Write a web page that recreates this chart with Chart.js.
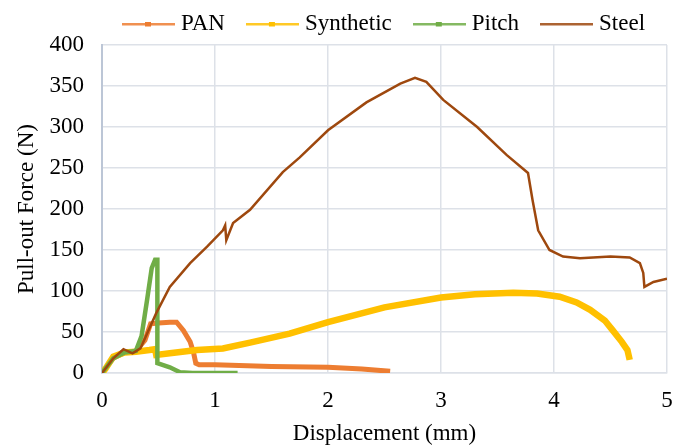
<!DOCTYPE html>
<html>
<head>
<meta charset="utf-8">
<script src="https://cdn.jsdelivr.net/npm/chart.js@4.4.1/dist/chart.umd.min.js"></script>
<style>
  html, body { margin: 0; padding: 0; background: #fff; }
  #wrap { width: 677px; height: 446px; position: relative; }
</style>
</head>
<body>
<div id="wrap"><canvas id="pullout"></canvas></div>
<script>
// displacement (mm) / force (N)
const panX = [0, 0.1, 0.2, 0.3, 0.38, 0.43, 0.5, 0.6, 0.66, 0.72, 0.78, 0.81, 0.83, 0.86, 1.0, 1.5, 2.0, 2.3, 2.55];
const panY = [0, 18, 25, 27, 40, 60, 61, 62, 62, 52, 38, 25, 12, 10, 10, 8, 7, 5, 2];

const synX = [0, 0.03, 0.1, 0.2, 0.3, 0.42, 0.47, 0.48, 0.6, 0.84, 1.07, 1.31, 1.66, 2.0, 2.5, 3.0, 3.3, 3.64, 3.85, 4.05, 4.2, 4.32, 4.45, 4.52, 4.6, 4.65, 4.67];
const synY = [0, 5, 20, 25, 26, 28, 29, 22, 24, 28, 30, 37, 48, 62, 80, 92, 96, 98, 97, 93, 86, 77, 64, 52, 38, 28, 16];

const pitchX = [0, 0.1, 0.2, 0.3, 0.35, 0.4, 0.44, 0.47, 0.49, 0.49, 0.6, 0.69, 0.8, 1.2];
const pitchY = [0, 18, 25, 27, 45, 90, 128, 138, 138, 12, 7, 1, 0, 0];

const steelX = [0, 0.1, 0.19, 0.27, 0.34, 0.48, 0.6, 0.78, 0.93, 1.07, 1.09, 1.1, 1.16, 1.31, 1.6, 1.75, 2.0, 2.34, 2.64, 2.77, 2.87, 3.02, 3.32, 3.58, 3.77, 3.81, 3.86, 3.96, 4.08, 4.23, 4.5, 4.67, 4.76, 4.79, 4.8, 4.88, 5.0];
const steelY = [0, 18, 29, 24, 30, 73, 105, 134, 154, 174, 180, 162, 183, 199, 245, 263, 296, 330, 353, 360, 355, 333, 300, 266, 244, 211, 174, 150, 142, 140, 142, 141, 134, 122, 105, 111, 115];

const xTicks = [0, 1, 2, 3, 4, 5];
const yTicks = [0, 50, 100, 150, 200, 250, 300, 350, 400];

const serif = 'Liberation Serif';
const fontSize = 23;
const legendPad = 26.5;

function points(xs, ys) {
  return xs.map((x, i) => ({ x: x, y: ys[i] }));
}

// little legend glyph: line with a square marker, like the Excel legend
function legendGlyph(color, marker) {
  const c = document.createElement('canvas');
  c.width = 53;
  c.height = 8;
  const g = c.getContext('2d');
  g.fillStyle = color;
  g.globalAlpha = 0.85;
  g.fillRect(0, 3, 53, 2.5);
  g.globalAlpha = 1;
  if (marker) g.fillRect(23, 2, 6, 4.5);
  return c;
}

function series(label, xs, ys, color, width, order, marker) {
  return {
    label: label,
    data: points(xs, ys),
    borderColor: color,
    backgroundColor: color,
    borderWidth: width,
    pointRadius: 0,
    pointStyle: legendGlyph(color, marker),
    tension: 0,
    order: order
  };
}

// keep the legend one row, put it where Excel had it
const legendPlace = {
  id: 'legendPlace',
  beforeLayout(chart) {
    const lg = chart.legend;
    if (lg && !lg._wrapped) {
      const fit = lg.fit;
      lg.fit = function () {
        this.maxWidth = 2000;
        this.width = 2000;
        fit.call(this);
        this.height = 45;
      };
      lg._wrapped = true;
    }
  },
  afterLayout(chart) {
    const lg = chart.legend;
    const rowWidth = lg.lineWidths[0];
    lg.right = 900;
    lg.left = 2 * 127.5 + rowWidth - legendPad - lg.right;
    lg.width = lg.right - lg.left;
    lg.top = 24 - legendPad - fontSize / 2;
  }
};

const ctx = document.getElementById('pullout').getContext('2d');
const chart = new Chart(ctx, {
  type: 'line',
  data: {
    datasets: [
      series('PAN', panX, panY, '#ED7D31', 5, 3, true),
      series('Synthetic', synX, synY, '#FFC000', 6.5, 2, true),
      series('Pitch', pitchX, pitchY, '#70AD47', 4.5, 1, true),
      series('Steel', steelX, steelY, '#9E480E', 2.5, 0, false)
    ]
  },
  plugins: [legendPlace],
  options: {
    responsive: true,
    maintainAspectRatio: false,
    animation: false,
    layout: { padding: { top: 0, right: 0, left: 0, bottom: 0 } },
    plugins: {
      tooltip: { enabled: false },
      legend: {
        position: 'top',
        labels: {
          font: { family: serif, size: fontSize },
          color: '#000',
          usePointStyle: true,
          pointStyleWidth: 42,
          padding: legendPad,
          sort: (a, b) => a.datasetIndex - b.datasetIndex
        }
      }
    },
    scales: {
      x: {
        type: 'linear',
        min: 0,
        max: 5,
        afterBuildTicks: s => { s.ticks = xTicks.map(v => ({ value: v })); },
        afterFit: s => { s.height = 73; s.paddingLeft = 0; s.paddingRight = 10; },
        grid: { color: '#dde1e8', lineWidth: 1.5, drawTicks: false },
        border: { color: '#dde1e8', width: 1.5 },
        ticks: { color: '#000', font: { family: serif, size: fontSize }, padding: 14 },
        title: { display: true, text: 'Displacement (mm)', color: '#000', font: { family: serif, size: fontSize, lineHeight: 1.05 }, padding: { top: 0, bottom: 0 } }
      },
      y: {
        min: 0,
        max: 400,
        afterBuildTicks: s => { s.ticks = yTicks.map(v => ({ value: v })); },
        afterFit: s => { s.width = 102; },
        grid: { color: '#dde1e8', lineWidth: 1.5, drawTicks: false },
        border: { color: '#bcc6d6', width: 2 },
        ticks: { color: '#000', font: { family: serif, size: fontSize }, padding: 18 },
        title: { display: true, text: 'Pull-out Force (N)', color: '#000', font: { family: serif, size: fontSize }, padding: { top: 13, bottom: 0 } }
      }
    }
  }
});
</script>
</body>
</html>
